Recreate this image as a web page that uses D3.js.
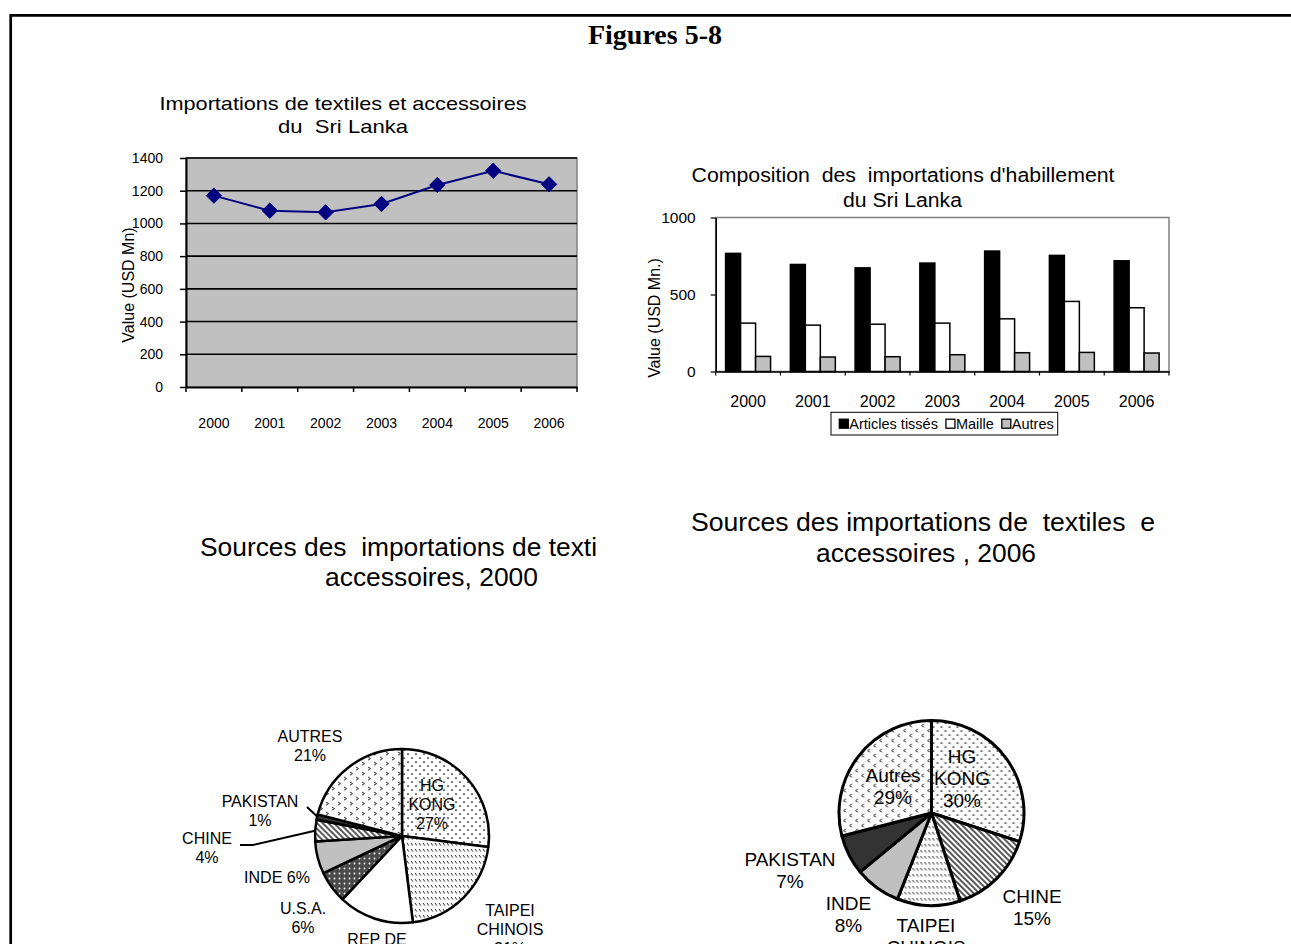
<!DOCTYPE html>
<html><head><meta charset="utf-8">
<script src="https://cdn.jsdelivr.net/npm/d3@7"></script>
<style>
html,body{margin:0;padding:0;background:#fff;overflow:hidden}
svg text{font-family:"Liberation Sans",Arial,sans-serif;white-space:pre}
</style></head><body>
<svg id="c" width="1291" height="944"></svg>
<script>
// ---------------- DATA ----------------
const years = ["2000","2001","2002","2003","2004","2005","2006"];
const textileImports = [1170,1078,1068,1119,1235,1322,1239];
const lineTicks = [0,200,400,600,800,1000,1200,1400];

const seriesNames = ["Articles tissés","Maille","Autres"];
const woven = [767,695,673,704,782,754,719];
const knit = [314,301,307,314,342,455,414];
const otherApparel = [98,94,96,109,122,124,120];
const barTicks = [0,500,1000];

const pie2000Names = ["HG\nKONG","TAIPEI\nCHINOIS","REP DE\nCOREE","U.S.A.","INDE","CHINE","PAKISTAN","AUTRES"];
const pie2000Values = [27,21,14,6,6,4,1,21];
const pie2006Names = ["HG\nKONG","CHINE","TAIPEI\nCHINOIS","INDE","PAKISTAN","Autres"];
const pie2006Values = [30,15,11,8,7,29];

const mainTitle = "Figures 5-8";
const lineTitle = ["Importations de textiles et accessoires","du  Sri Lanka"];
const barTitle = ["Composition  des  importations d'habillement","du Sri Lanka"];
const pie2000Title = ["Sources des  importations de texti","accessoires, 2000"];
const pie2006Title = ["Sources des importations de  textiles  e","accessoires , 2006"];
const lineYLabel = "Value (USD Mn)";
const barYLabel = "Value (USD Mn.)";

// ---------------- SETUP ----------------
const svg = d3.select('#c');
const defs = svg.append('defs');
const FONT = '"Liberation Sans",Arial,sans-serif';

function pat(id,w,h,bg,draw,transform){
  const p = defs.append('pattern').attr('id',id).attr('patternUnits','userSpaceOnUse')
    .attr('width',w).attr('height',h);
  if(transform) p.attr('patternTransform',transform);
  p.append('rect').attr('width',w).attr('height',h).attr('fill',bg);
  draw(p);
}
pat('dots',8,8,'#fff',p=>{[[2,2],[6,6]].forEach(([x,y])=>p.append('circle').attr('cx',x).attr('cy',y).attr('r',0.85).attr('fill','#000'));});
pat('chevR',12,10,'#fff',p=>{p.append('path').attr('d','M2,1 L4.5,2.6 L2,4.2 M8,6 L10.5,7.6 L8,9.2').attr('stroke','#000').attr('stroke-width',0.85).attr('fill','none');});
pat('chevL',12,10,'#fff',p=>{p.append('path').attr('d','M4.5,1 L2,2.6 L4.5,4.2 M10.5,6 L8,7.6 L10.5,9.2').attr('stroke','#000').attr('stroke-width',0.85).attr('fill','none');});
pat('dashDiag',4,6,'#fff',p=>{p.append('line').attr('x1',1).attr('y1',1).attr('x2',2.8).attr('y2',3.6).attr('stroke','#000').attr('stroke-width',0.85);});
pat('diag',4,4,'#fff',p=>{p.append('line').attr('x1',1).attr('y1',-1).attr('x2',1).attr('y2',5).attr('stroke','#000').attr('stroke-width',1.3);},'rotate(-45)');
pat('check',5,5,'#4a4a4a',p=>{p.append('circle').attr('cx',2.5).attr('cy',2.5).attr('r',0.9).attr('fill','#fff');});

function titleLines(lines, cx, baselines, sizes, widths){
  lines.forEach((t,i)=>{
    const el = svg.append('text').attr('x',cx[i]).attr('y',baselines[i]).attr('text-anchor','middle')
      .attr('font-size',sizes[i]).attr('fill','#000').text(t);
    if(widths && widths[i]) el.attr('textLength',widths[i]).attr('lengthAdjust','spacingAndGlyphs');
  });
}

// frame
svg.append('path').attr('d','M10.7,944 V15.3 H1291').attr('fill','none').attr('stroke','#000').attr('stroke-width',2.7);

// main title
svg.append('text').attr('x',655).attr('y',44).attr('text-anchor','middle')
  .style('font-family','"Liberation Serif","Times New Roman",serif').attr('font-weight','bold')
  .attr('font-size',28).text(mainTitle);

// ---------------- LINE CHART ----------------
{
  const L = {x0:186, x1:577, y0:158, y1:387};
  const x = d3.scaleBand().domain(years).range([L.x0,L.x1]);
  const y = d3.scaleLinear().domain([0,1400]).range([L.y1,L.y0]);
  const g = svg.append('g');
  g.append('rect').attr('x',L.x0).attr('y',L.y0).attr('width',L.x1-L.x0).attr('height',L.y1-L.y0)
    .attr('fill','#c0c0c0').attr('stroke','#808080').attr('stroke-width',1.5);
  g.selectAll('.grid').data(lineTicks.filter(d=>d>0)).join('line')
    .attr('x1',L.x0).attr('x2',L.x1).attr('y1',d=>y(d)).attr('y2',d=>y(d))
    .attr('stroke','#000').attr('stroke-width',1.6);
  const ya = g.append('g').attr('transform',`translate(${L.x0},0)`)
    .call(d3.axisLeft(y).tickValues(lineTicks).tickSize(6).tickSizeOuter(0).tickPadding(17).tickFormat(d3.format('d')));
  ya.select('.domain').attr('stroke','#000').attr('stroke-width',2);
  ya.selectAll('.tick line').attr('stroke','#000').attr('stroke-width',1.5);
  ya.selectAll('text').attr('font-size',14).style('font-family',FONT).attr('fill','#000');
  const xa = g.append('g').attr('transform',`translate(0,${L.y1})`)
    .call(d3.axisBottom(x).tickSize(0).tickSizeOuter(0).tickPadding(31));
  xa.select('.domain').attr('stroke','#000').attr('stroke-width',2);
  xa.selectAll('text').attr('font-size',14).style('font-family',FONT).attr('fill','#000');
  g.selectAll('.xt').data(years.map(d=>x(d)).concat([x.range()[1]])).join('line')
    .attr('x1',d=>d).attr('x2',d=>d).attr('y1',L.y1).attr('y2',L.y1+5)
    .attr('stroke','#000').attr('stroke-width',1.5);
  const line = d3.line().x((d,i)=>x(years[i])+x.bandwidth()/2).y(d=>y(d));
  g.append('path').datum(textileImports).attr('d',line).attr('fill','none')
    .attr('stroke','#000080').attr('stroke-width',2);
  g.selectAll('.pt').data(textileImports).join('path')
    .attr('transform',(d,i)=>`translate(${x(years[i])+x.bandwidth()/2},${y(d)})`)
    .attr('d',d3.symbol(d3.symbolDiamond2, 150)).attr('fill','#000080').attr('stroke','#000080').attr('stroke-width',1);
  svg.append('text').attr('transform','translate(134,285) rotate(-90)').attr('text-anchor','middle')
    .attr('font-size',16).text(lineYLabel);
  titleLines(lineTitle,[343,343],[110,133],[19,19],[367,130]);
}

// ---------------- BAR CHART ----------------
{
  const B = {x0:715.7, x1:1169, y0:217.5, y1:371.5};
  const x = d3.scaleBand().domain(years).range([B.x0,B.x1]);
  const xs = d3.scaleBand().domain([0,1,2]).range([0,x.bandwidth()]).paddingInner(0).paddingOuter(0.66);
  const y = d3.scaleLinear().domain([0,1000]).range([B.y1,B.y0]);
  const fills = ['#000','#fff','#c0c0c0'];
  const series = [woven,knit,otherApparel];
  const g = svg.append('g');
  g.append('rect').attr('x',B.x0).attr('y',B.y0).attr('width',B.x1-B.x0).attr('height',B.y1-B.y0)
    .attr('fill','#fff').attr('stroke','#808080').attr('stroke-width',1.5);
  series.forEach((s,si)=>{
    g.selectAll('.b'+si).data(s).join('rect')
      .attr('x',(d,i)=>x(years[i])+xs(si)).attr('y',d=>y(d))
      .attr('width',xs.bandwidth()).attr('height',d=>B.y1-y(d))
      .attr('fill',fills[si]).attr('stroke','#000').attr('stroke-width',1.5);
  });
  const ya = g.append('g').attr('transform',`translate(${B.x0},0)`)
    .call(d3.axisLeft(y).tickValues(barTicks).tickSize(5).tickSizeOuter(0).tickPadding(15).tickFormat(d3.format('d')));
  ya.select('.domain').attr('stroke','#000').attr('stroke-width',1.5);
  ya.selectAll('.tick line').attr('stroke','#000').attr('stroke-width',1.2);
  ya.selectAll('text').attr('font-size',15.5).style('font-family',FONT).attr('fill','#000');
  const xa = g.append('g').attr('transform',`translate(0,${B.y1})`)
    .call(d3.axisBottom(x).tickSize(0).tickSizeOuter(0).tickPadding(24.5));
  xa.select('.domain').attr('stroke','#000').attr('stroke-width',1.5);
  xa.selectAll('text').attr('font-size',16).style('font-family',FONT).attr('fill','#000');
  g.selectAll('.xt').data(years.map(d=>x(d)).concat([x.range()[1]])).join('line')
    .attr('x1',d=>d).attr('x2',d=>d).attr('y1',B.y1).attr('y2',B.y1+4)
    .attr('stroke','#000').attr('stroke-width',1.2);
  svg.append('text').attr('transform','translate(660,318) rotate(-90)').attr('text-anchor','middle')
    .attr('font-size',16).text(barYLabel);
  titleLines(barTitle,[903,902.5],[182,207],[20,20],[423,119]);
  // legend
  const lg = svg.append('g');
  lg.append('rect').attr('x',831).attr('y',412.3).attr('width',226.7).attr('height',22.7)
    .attr('fill','#fff').attr('stroke','#000').attr('stroke-width',1);
  let lx = 839.3;
  seriesNames.forEach((n,i)=>{
    lg.append('rect').attr('x',lx).attr('y',419.2).attr('width',9).attr('height',9)
      .attr('fill',fills[i]).attr('stroke','#000').attr('stroke-width',1.3);
    const t = lg.append('text').attr('x',lx+10).attr('y',429).attr('font-size',14.5).text(n);
    lx += 10 + t.node().getComputedTextLength() + 8;
  });
}

// ---------------- PIES ----------------
function drawPie(P){
  const pie = d3.pie().sort(null).value(d=>d.v);
  const data = pie(P.names.map((n,i)=>({n, v:P.values[i], fill:P.fills[i]})));
  const total = d3.sum(P.values);
  const pct = d3.format('.0%');
  const arc = d3.arc().innerRadius(0).outerRadius(P.r);
  const g = svg.append('g').attr('transform',`translate(${P.cx},${P.cy})`);
  g.selectAll('path.slice').data(data).join('path').attr('class','slice')
    .attr('d',arc).attr('fill',d=>d.data.fill)
    .attr('stroke','#000').attr('stroke-width',P.sw).attr('stroke-linejoin','round');
  data.forEach((d,i)=>{
    const lay = P.labels[i];
    const p = pct(d.data.v/total);
    const lines = lay.same ? [d.data.n + ' ' + p] : d.data.n.split('\n').concat([p]);
    const n = lines.length;
    const t = g.append('text').attr('text-anchor','middle').attr('font-size',P.fs).attr('fill','#000');
    lines.forEach((ln,k)=>{
      t.append('tspan').attr('x',lay.dx)
        .attr('y',lay.dy + (k-(n-1)/2)*P.lh + P.fs*0.35).text(ln);
    });
    if(lay.leader){
      const a = (d.startAngle+d.endAngle)/2;
      const pts = [[P.r*0.99*Math.sin(a), -P.r*0.99*Math.cos(a)]]
        .concat(lay.leader.map(([ox,oy])=>[lay.dx+ox, lay.dy+oy]));
      g.append('path').attr('d',d3.line()(pts)).attr('fill','none')
        .attr('stroke','#000').attr('stroke-width',2);
    }
  });
}

drawPie({
  cx:402, cy:836, r:87, sw:2.5, fs:16, lh:19,
  names:pie2000Names, values:pie2000Values,
  fills:['url(#dots)','url(#dashDiag)','#fff','url(#check)','#c0c0c0','url(#diag)','#333','url(#chevR)'],
  labels:[
    {dx:30, dy:-32},
    {dx:108, dy:93},
    {dx:-25, dy:122},
    {dx:-99, dy:82},
    {dx:-125, dy:41, same:true},
    {dx:-195, dy:12, leader:[[46,-3],[33,-3]]},
    {dx:-142, dy:-25, leader:[[47,-4]]},
    {dx:-92, dy:-90}
  ]
});
drawPie({
  cx:931.5, cy:813, r:92.5, sw:3, fs:19, lh:21.7,
  names:pie2006Names, values:pie2006Values,
  fills:['url(#dots)','url(#diag)','url(#dashDiag)','#c0c0c0','#333','url(#chevL)'],
  labels:[
    {dx:30.5, dy:-34.5},
    {dx:100.5, dy:94.5},
    {dx:-5.5, dy:134},
    {dx:-83, dy:101.5},
    {dx:-141.5, dy:57},
    {dx:-38.5, dy:-27}
  ]
});

titleLines(pie2000Title,[398.5,431.5],[556,586],[25,25],[397,213]);
titleLines(pie2006Title,[923,926],[531,562],[25,25],[464,220]);
</script>
</body></html>
